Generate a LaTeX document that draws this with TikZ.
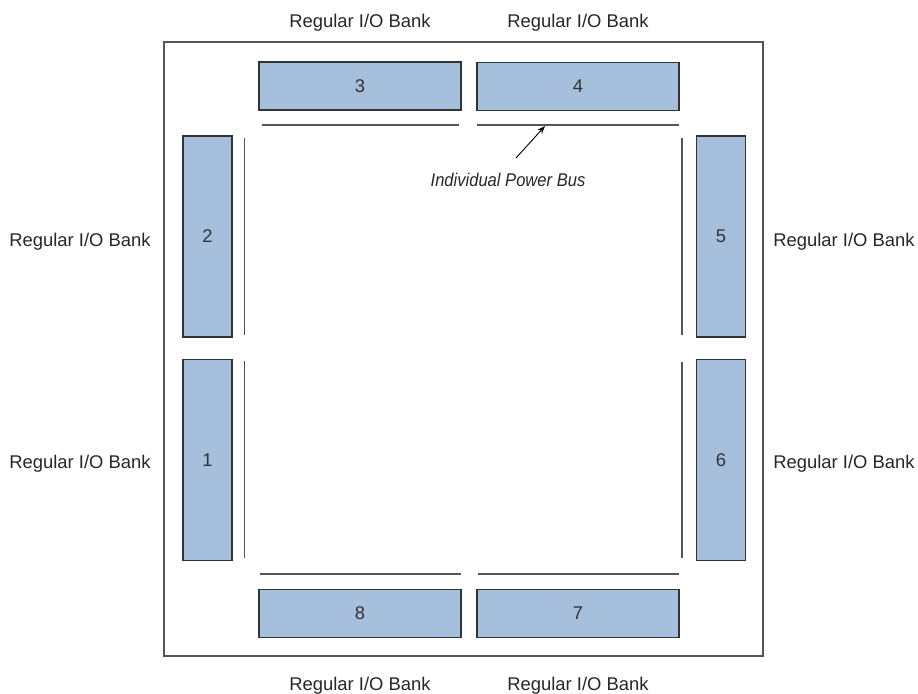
\documentclass[tikz,border=0pt]{standalone}
\usepackage{fontspec}
\setmainfont{Liberation Sans}
\usetikzlibrary{arrows.meta}
\definecolor{bankfill}{HTML}{A5BFDD}
\definecolor{bankdraw}{HTML}{333333}
\definecolor{busgray}{HTML}{555555}
\begin{document}
\begin{tikzpicture}[x=0.5pt,y=-0.5pt,
  every node/.style={font=\fontsize{9.2}{11}\selectfont, inner sep=0pt},
  hbank/.style={draw=bankdraw, fill=bankfill, line width=0.55pt, minimum width=101pt, minimum height=24pt, text=black!80},
  vbank/.style={draw=bankdraw, fill=bankfill, line width=0.55pt, minimum width=24.5pt, minimum height=100.5pt, text=black!80},
  bus/.style={draw=busgray, line width=0.75pt},
  lbl/.style={text=black!85}]
\useasboundingbox (0,0) rectangle (918,693);
\draw[draw=busgray, line width=0.7pt] (164,42) rectangle (763,656);
% banks
\node[hbank] (b3) at (360,86) {3};
\node[hbank] (b4) at (578,86.5) {4};
\node[vbank] (b2) at (207.5,236.5) {2};
\node[vbank] (b1) at (207.5,460) {1};
\node[vbank] (b5) at (721,236.5) {5};
\node[vbank] (b6) at (721,460) {6};
\node[hbank] (b8) at (360,613.5) {8};
\node[hbank] (b7) at (578,613.5) {7};
% buses
\draw[bus] (262,125) -- (459,125);
\draw[bus] (477,125) coordinate (t4a) -- (679,125) coordinate (t4b);
\draw[bus] (244.5,138) -- (244.5,335);
\draw[bus] (244.5,361) -- (244.5,558);
\draw[bus] (682,138) -- (682,335);
\draw[bus] (682,362) -- (682,558);
\draw[bus] (260,574) -- (461,574);
\draw[bus] (478,574) -- (679,574);
\coordinate (tip) at (545,126);
% labels
\node[lbl] (l3) at (360,22.5) {Regular I/O Bank};
\node[lbl] (l4) at (578,22.5) {Regular I/O Bank};
\node[lbl] (l2) at (80,242) {Regular I/O Bank};
\node[lbl] (l1) at (80,464) {Regular I/O Bank};
\node[lbl] (l5) at (844,242) {Regular I/O Bank};
\node[lbl] (l6) at (844,464) {Regular I/O Bank};
\node[lbl] (l8) at (360,685.5) {Regular I/O Bank};
\node[lbl] (l7) at (578,685.5) {Regular I/O Bank};
\node[lbl] (ipb) at (508,179.5) {\scalebox{0.9}[1]{\itshape Individual Power Bus}};
\draw[line width=0.45pt, -{Stealth[length=4pt,width=3pt]}] (516,158) -- (tip);
\end{tikzpicture}
\end{document}
